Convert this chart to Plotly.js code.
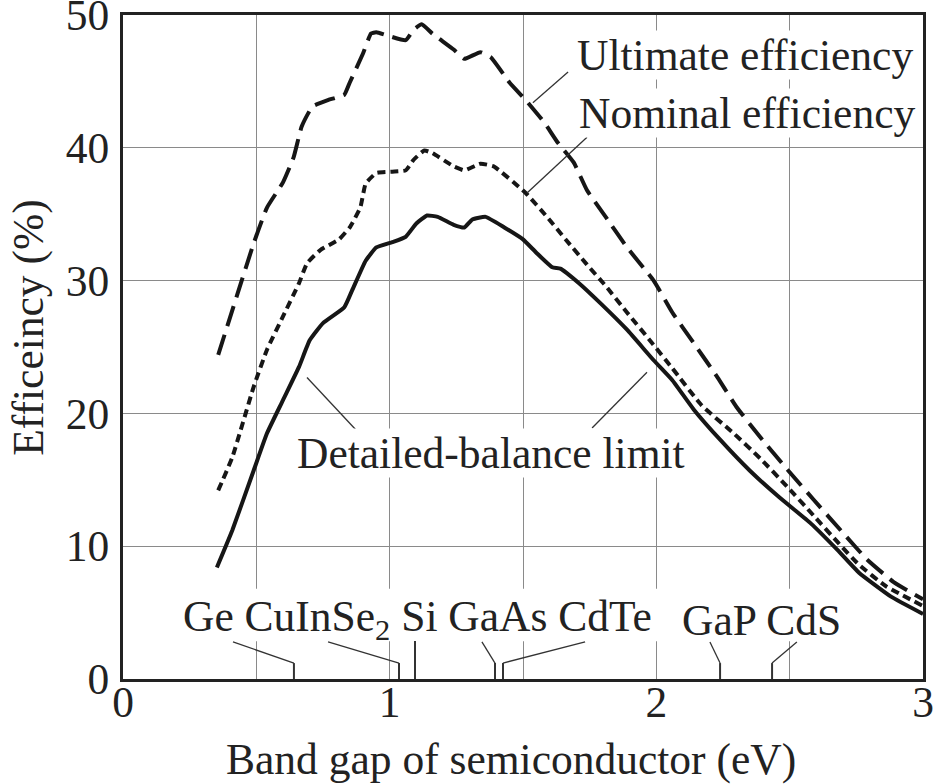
<!DOCTYPE html>
<html><head><meta charset="utf-8">
<script src="https://cdn.plot.ly/plotly-3.0.1.min.js"></script>
<style>html,body{margin:0;padding:0;background:#fff}#chart{width:935px;height:784px}</style>
</head><body><div id="chart"></div>
<script>
// ---- data ----
const ultX = [0.357,0.49,0.54,0.60,0.64,0.67,0.71,0.77,0.83,0.85,0.90,0.93,0.95,1.00,1.06,1.09,1.12,1.16,1.24,1.28,1.34,1.38,1.45,1.51,1.58,1.63,1.69,1.74,1.81,1.89,1.99,2.06,2.14,2.23,2.30,2.39,2.49,2.59,2.70,2.79,2.89,3.0];
const ultY = [24.4,32.8,35.5,37.4,39.3,41.6,43.1,43.6,44.0,44.9,47.1,48.6,48.7,48.4,48.1,48.9,49.3,48.6,47.4,46.7,47.2,46.8,44.9,43.6,41.9,40.4,38.9,36.8,34.8,32.5,30.0,27.6,25.3,22.7,20.5,18.2,15.8,13.5,11.0,9.0,7.3,6.0];
const nomX = [0.357,0.41,0.49,0.54,0.60,0.66,0.69,0.74,0.81,0.85,0.89,0.91,0.95,1.01,1.06,1.09,1.13,1.16,1.24,1.28,1.34,1.39,1.51,1.59,1.66,1.74,1.81,1.89,1.98,2.06,2.17,2.29,2.39,2.49,2.59,2.68,2.76,2.86,3.0];
const nomY = [14.2,16.7,22.0,24.8,27.3,29.8,31.3,32.3,33.1,34.0,35.5,37.3,38.1,38.2,38.3,39.1,39.8,39.6,38.6,38.3,38.8,38.6,36.6,34.8,33.1,31.2,29.6,27.6,25.4,23.4,20.6,18.5,16.6,14.5,12.3,10.3,8.6,7.0,5.5];
const dblX = [0.352,0.41,0.49,0.54,0.60,0.66,0.70,0.75,0.83,0.86,0.91,0.95,1.01,1.06,1.10,1.14,1.18,1.24,1.28,1.31,1.36,1.43,1.50,1.55,1.61,1.64,1.71,1.79,1.89,1.99,2.06,2.14,2.24,2.35,2.46,2.58,2.68,2.76,2.88,3.0];
const dblY = [8.4,11.2,15.7,18.5,21.0,23.5,25.5,26.8,28.0,29.3,31.5,32.5,32.9,33.3,34.3,34.9,34.8,34.2,34.0,34.6,34.8,34.0,33.1,32.1,31.0,30.9,29.8,28.3,26.3,24.0,22.5,20.3,18.0,15.7,13.7,11.7,9.7,8.0,6.2,4.9];
const seriesNames = ['Ultimate efficiency','Nominal efficiency','Detailed-balance limit'];
const materials = ['Ge','CuInSe<sub>2</sub>','Si','GaAs','CdTe','GaP','CdS'];
const bandGaps = [0.641,1.035,1.095,1.395,1.425,2.239,2.434];
const xTickVals = [0,1,2,3];
const xTickText = ['0','1','2','3'];
const yTickVals = [0,10,20,30,40,50];
const yTickText = ['0','10','20','30','40','50'];

// ---- styling / layout helpers ----
const FONT = 'Liberation Serif, Times New Roman, serif';
const TXT = '#222';
const LINE = '#161616';
const FS = 43.5;
// leader start positions for material labels (style)
const matLeadX = [0.4125,0.769,null,1.346,1.733,2.201,2.527];
const leadTopY = 2.79, tickTopY = 1.2, siTopY = 2.86;

const traces = [
  {x: ultX, y: ultY, name: seriesNames[0], mode:'lines', line:{color:LINE, width:4, dash:'21px,9px', shape:'spline', smoothing:0.4}},
  {x: nomX, y: nomY, name: seriesNames[1], mode:'lines', line:{color:LINE, width:4, dash:'8px,5px', shape:'spline', smoothing:0.4}},
  {x: dblX, y: dblY, name: seriesNames[2], mode:'lines', line:{color:LINE, width:4, shape:'spline', smoothing:0.4}}
];

const shapes = [];
// white band behind the material label row (hides gridlines only)
shapes.push({type:'rect', xref:'x', yref:'y', x0:0.2, x1:2.72, y0:2.85, y1:6.8, fillcolor:'white', line:{width:0}, layer:'between'});
const leadLine = {color:'#333', width:1.3};
const tickLine = {color:'#333', width:2};
bandGaps.forEach((g,i)=>{
  if (matLeadX[i] === null) {
    shapes.push({type:'line', xref:'x', yref:'y', x0:g, x1:g, y0:0, y1:siTopY, line:tickLine});
  } else {
    shapes.push({type:'line', xref:'x', yref:'y', x0:g, x1:g, y0:0, y1:tickTopY, line:tickLine});
    shapes.push({type:'line', xref:'x', yref:'y', x0:matLeadX[i], x1:g, y0:leadTopY, y1:tickTopY, line:leadLine});
  }
});
// series leader lines
shapes.push({type:'line', xref:'x', yref:'y', x0:1.669, y0:45.7, x1:1.537, y1:43.4, line:leadLine});
shapes.push({type:'line', xref:'x', yref:'y', x0:1.74, y0:40.8, x1:1.515, y1:36.6, line:leadLine});
shapes.push({type:'line', xref:'x', yref:'y', x0:0.69, y0:22.7, x1:0.881, y1:18.6, line:leadLine});
shapes.push({type:'line', xref:'x', yref:'y', x0:1.759, y0:18.9, x1:1.965, y1:23.1, line:leadLine});

const f = {family:FONT, size:FS, color:TXT};
const annotations = [
  {text:seriesNames[0], x:1.70, y:47.0, xref:'x', yref:'y', xanchor:'left', yanchor:'middle', showarrow:false, font:f, bgcolor:'white', borderpad:0},
  {text:seriesNames[1], x:1.708, y:42.6, xref:'x', yref:'y', xanchor:'left', yanchor:'middle', showarrow:false, font:f, bgcolor:'white', borderpad:0},
  {text:seriesNames[2], x:0.65, y:17.0, xref:'x', yref:'y', xanchor:'left', yanchor:'middle', showarrow:false, font:f, bgcolor:'white', borderpad:0},
  {text:materials.slice(0,5).join(' '), x:0.218, y:4.45, xref:'x', yref:'y', xanchor:'left', yanchor:'middle', showarrow:false, font:f},
  {text:materials.slice(5).join(' '), x:2.09, y:4.45, xref:'x', yref:'y', xanchor:'left', yanchor:'middle', showarrow:false, font:f},
  {text:'Band gap of semiconductor (eV)', x:0.485, y:-0.121, xref:'paper', yref:'paper', xanchor:'center', yanchor:'middle', showarrow:false, font:f},
  {text:'Efficeincy (%)', x:-0.1175, y:0.529, xref:'paper', yref:'paper', xanchor:'center', yanchor:'middle', textangle:-90, showarrow:false, font:f}
];

const axisCommon = {showline:true, mirror:true, linecolor:'#222', linewidth:3, zeroline:false,
  showgrid:true, gridcolor:'#8a8a8a', gridwidth:1, ticks:'', tickfont:f, ticklabeloverflow:'allow'};

const layout = {
  width:935, height:784,
  margin:{l:123, r:12, t:15, b:105},
  paper_bgcolor:'white', plot_bgcolor:'white',
  showlegend:false,
  xaxis: Object.assign({}, axisCommon, {range:[0,3], tickvals:xTickVals, ticktext:xTickText, ticklabelstandoff:-17,
    minor:{dtick:0.5, showgrid:true, gridcolor:'#8a8a8a', gridwidth:1, ticks:''}}),
  yaxis: Object.assign({}, axisCommon, {range:[0,50], tickvals:yTickVals, ticktext:yTickText, ticklabelstandoff:2}),
  shapes: shapes,
  annotations: annotations
};
Plotly.newPlot('chart', traces, layout, {displayModeBar:false, staticPlot:true});
</script></body></html>
